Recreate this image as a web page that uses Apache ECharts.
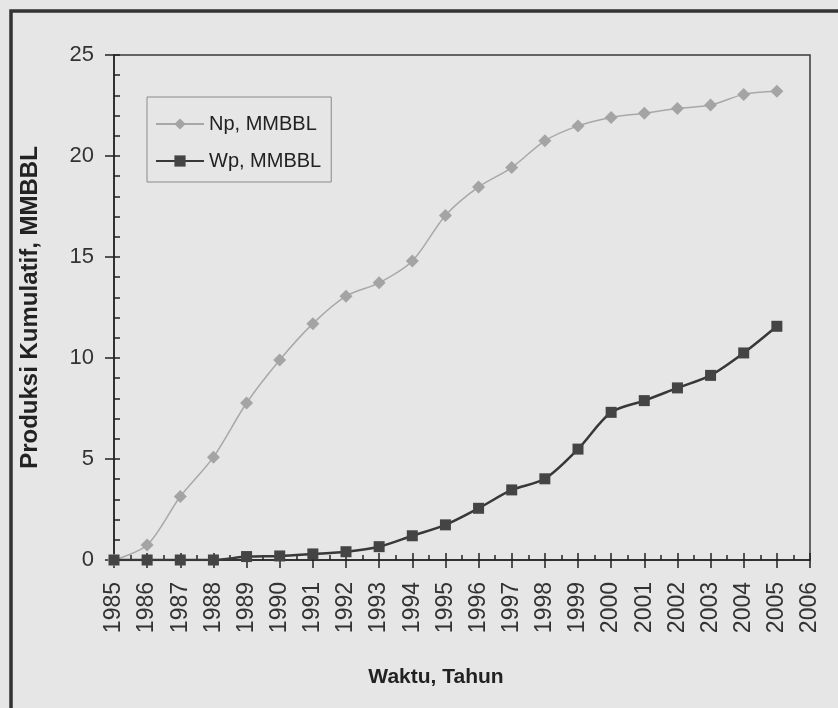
<!DOCTYPE html>
<html>
<head>
<meta charset="utf-8">
<script src="https://cdn.jsdelivr.net/npm/echarts@6/dist/echarts.min.js"></script>
<style>
html,body{margin:0;padding:0;background:#e6e6e6;}
#c{width:838px;height:708px;}
</style>
</head>
<body>
<div id="c"></div>
<script>
var years = [1985,1986,1987,1988,1989,1990,1991,1992,1993,1994,1995,1996,1997,1998,1999,2000,2001,2002,2003,2004,2005];
var npValues = [0,0.74,3.14,5.09,7.77,9.9,11.7,13.06,13.72,14.8,17.06,18.47,19.43,20.75,21.49,21.91,22.12,22.35,22.52,23.05,23.2];
var wpValues = [0,0,0,0,0.17,0.2,0.3,0.41,0.66,1.2,1.74,2.56,3.47,4.02,5.49,7.31,7.89,8.52,9.14,10.25,11.57];
var npName = 'Np, MMBBL';
var wpName = 'Wp, MMBBL';
var xTitle = 'Waktu, Tahun';
var yTitle = 'Produksi Kumulatif, MMBBL';

function pairs(vals){ return years.map(function(y,i){ return [y, vals[i]]; }); }

var font = 'Liberation Sans, Arial, sans-serif';
var chart = echarts.init(document.getElementById('c'));
chart.setOption({
  backgroundColor: '#e6e6e6',
  animation: false,
  textStyle: {fontFamily: font},
  grid: {left: 114, right: 28, top: 55, bottom: 148, show: true, borderColor: '#3a3a3a', borderWidth: 1.5, backgroundColor: 'transparent'},
  legend: {
    orient: 'vertical', left: 147, top: 97,
    padding: [17, 10, 11, 8], itemGap: 17,
    itemWidth: 48, itemHeight: 14,
    borderColor: '#8a8a8a', borderWidth: 1, backgroundColor: 'transparent',
    textStyle: {fontSize: 20, color: '#222', fontFamily: font, lineHeight: 20},
    data: [npName, wpName]
  },
  xAxis: [{
    type: 'value', min: 1985, max: 2006, interval: 1,
    axisLine: {show: true, lineStyle: {color: '#222', width: 1.5}},
    axisTick: {show: true, inside: false, length: 8, lineStyle: {color: '#222', width: 1.5}},
    axisLabel: {rotate: 90, fontSize: 23, margin: 22, color: '#333', fontFamily: font, formatter: function(v){return String(v);}},
    splitLine: {show: false}
  },{
    type: 'value', min: 1985, max: 2006, interval: 1, position: 'bottom',
    axisLine: {show: false},
    axisTick: {show: true, inside: true, length: 7, lineStyle: {color: '#222', width: 1.5}},
    minorTick: {show: true, splitNumber: 2, length: 5, lineStyle: {color: '#222', width: 1.5}},
    axisLabel: {show: false}, splitLine: {show: false}
  }],
  yAxis: [{
    type: 'value', min: 0, max: 25, interval: 5,
    name: yTitle, nameLocation: 'middle', nameGap: 72, nameRotate: 90,
    nameTextStyle: {fontSize: 24, fontWeight: 'bold', color: '#222', fontFamily: font},
    axisLine: {show: true, lineStyle: {color: '#222', width: 1.5}},
    axisTick: {show: true, inside: false, length: 9, lineStyle: {color: '#222', width: 1.5}},
    axisLabel: {fontSize: 22, margin: 20, color: '#333', fontFamily: font},
    splitLine: {show: false}
  },{
    type: 'value', min: 0, max: 25, interval: 5, position: 'left',
    axisLine: {show: false},
    axisTick: {show: true, inside: true, length: 6, lineStyle: {color: '#222', width: 1.5}},
    minorTick: {show: true, splitNumber: 5, length: 6, lineStyle: {color: '#222', width: 1.5}},
    axisLabel: {show: false}, splitLine: {show: false}
  }],
  graphic: [{
    type: 'rect', shape: {x: 11, y: 11, width: 900, height: 800},
    style: {fill: 'none', stroke: '#333', lineWidth: 3.5}, silent: true
  },{
    type: 'text', x: 436, y: 677,
    style: {text: xTitle, fontSize: 21, fontWeight: 'bold', fill: '#222', fontFamily: font, align: 'center', verticalAlign: 'middle'}
  }],
  series: [{
    name: npName, type: 'line', smooth: 0.3, xAxisIndex: 0, yAxisIndex: 0,
    data: pairs(npValues),
    symbol: 'diamond', symbolSize: 13,
    lineStyle: {color: '#a8a8a8', width: 1.5},
    itemStyle: {color: '#a4a4a4'},
    z: 2
  },{
    name: wpName, type: 'line', smooth: 0.3, xAxisIndex: 0, yAxisIndex: 0,
    data: pairs(wpValues),
    symbol: 'rect', symbolSize: 11,
    lineStyle: {color: '#383838', width: 2.5},
    itemStyle: {color: '#444'},
    z: 3
  }]
});
</script>
</body>
</html>
